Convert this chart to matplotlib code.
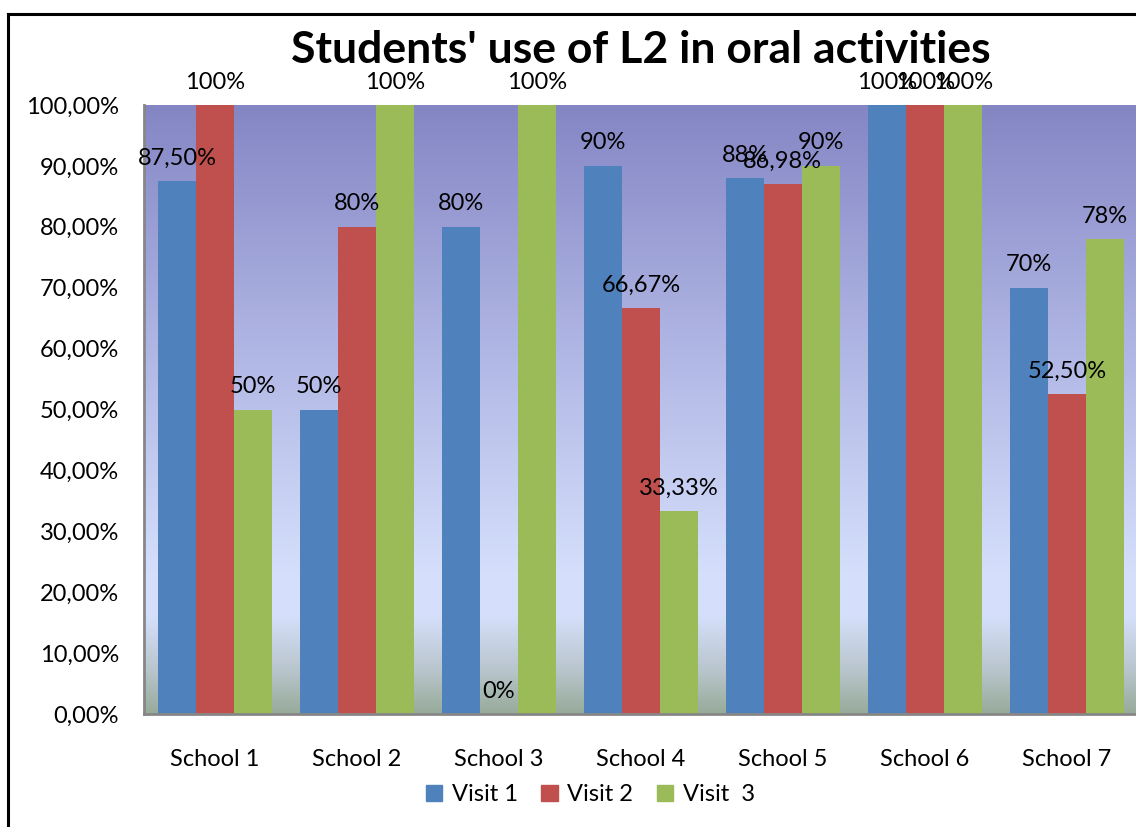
"""Grouped bar chart: share of students using L2 in oral activities, per school and visit."""

import matplotlib

matplotlib.use("Agg")
import matplotlib.pyplot as plt
import numpy as np
from matplotlib.lines import Line2D
from matplotlib.colors import LinearSegmentedColormap

plt.rcParams["font.family"] = ["Lato", "DejaVu Sans"]

schools = ["School 1", "School 2", "School 3", "School 4", "School 5", "School 6", "School 7"]
visit_names = ["Visit 1", "Visit 2", "Visit  3"]
visit_1 = [87.5, 50, 80, 90, 88, 100, 70]
visit_2 = [100, 80, 0, 66.67, 86.98, 100, 52.5]
visit_3 = [50, 100, 100, 33.33, 90, 100, 78]
y_ticks = [0, 10, 20, 30, 40, 50, 60, 70, 80, 90, 100]

colors = ["#4f81bd", "#c0504d", "#9bbb59"]
FS = 17


def pct_label(v):
    if float(v).is_integer():
        return f"{v:.0f}%"
    return f"{v:.2f}%".replace(".", ",")


fig = plt.figure(figsize=(11.36, 8.27), dpi=100)
ax = fig.add_axes([0.1266, 0.1366, 0.875, 0.7364])

# plot-area fill: purple-blue at the top fading to pale blue, then grey-green at the base
bg = LinearSegmentedColormap.from_list(
    "plotfill",
    [(0.0, "#97ab9a"), (0.07, "#b9c5cc"), (0.16, "#d5dffb"),
     (0.22, "#d6e0fc"), (0.6, "#b0b6e4"), (1.0, "#8486c4")],
)
grad = np.linspace(0, 1, 256).reshape(-1, 1)
ax.imshow(grad, aspect="auto", cmap=bg, origin="lower",
          extent=[-0.5, 6.5, 0, 100], zorder=0)

x = np.arange(len(schools))
width = 0.8 / 3
for i, (vals, col) in enumerate(zip([visit_1, visit_2, visit_3], colors)):
    pos = x + (i - 1) * width
    ax.bar(pos, vals, width, color=col, label=visit_names[i], zorder=2)
    for px, v in zip(pos, vals):
        ax.annotate(pct_label(v), (px, v), xytext=(0, 9), textcoords="offset points",
                    ha="center", va="bottom", fontsize=FS, annotation_clip=False)

ax.set_xlim(-0.5, 6.5)
ax.set_ylim(0, 100)
ax.set_xticks(x)
ax.set_xticklabels(schools, fontsize=FS)
ax.set_yticks(y_ticks)
ax.set_yticklabels([f"{t:.2f}%".replace(".", ",") for t in y_ticks], fontsize=FS)
ax.tick_params(axis="x", length=0, pad=25)
ax.tick_params(axis="y", length=0, pad=18)
for side in ("top", "right"):
    ax.spines[side].set_visible(False)
for side in ("left", "bottom"):
    ax.spines[side].set_color("#878787")
    ax.spines[side].set_linewidth(2)

fig.text(0.564, 0.94, "Students' use of L2 in oral activities",
         ha="center", va="center", fontsize=32, fontweight="bold")

handles = [plt.Rectangle((0, 0), 1, 1, color=c) for c in colors]
fig.legend(handles, visit_names, loc="center", bbox_to_anchor=(0.5195, 0.039),
           ncol=3, frameon=False, fontsize=FS, handlelength=0.7, handleheight=0.7,
           handletextpad=0.4, columnspacing=1.0)

# chart border (left and top edges fall inside the canvas)
fig.add_artist(Line2D([8 / 1136, 8 / 1136], [-0.1, 1 - 14 / 827],
                      transform=fig.transFigure, color="black", lw=2.2))
fig.add_artist(Line2D([8 / 1136, 1.1], [1 - 14 / 827, 1 - 14 / 827],
                      transform=fig.transFigure, color="black", lw=2.2))

fig.savefig("out.png", dpi=100)
